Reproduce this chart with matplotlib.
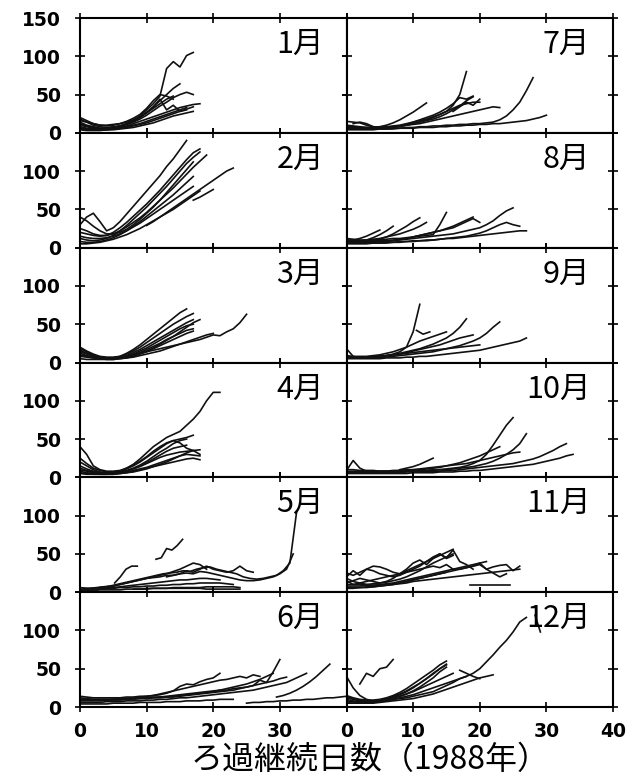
import numpy as np
import matplotlib.pyplot as plt

months = ['1月', '2月', '3月', '4月', '5月', '6月',
          '7月', '8月', '9月', '10月', '11月', '12月']

# each run: (start day, day step, pressure readings)
jan = [
    (0, 1, [14, 10, 8, 6, 6, 7, 9, 12, 16, 22, 30, 38, 48, 84, 93, 86, 101, 105]),
    (0, 1, [10, 8, 6, 5, 5, 6, 8, 11, 15, 20, 27, 34, 42, 50, 58, 64]),
    (0, 1, [18, 14, 10, 8, 7, 8, 9, 11, 14, 18, 23, 29, 35, 40, 46, 50, 53, 50]),
    (0, 1, [8, 6, 5, 4, 5, 6, 7, 9, 12, 15, 18, 21, 24, 27, 30, 33, 35, 37, 38]),
    (0, 1, [6, 5, 4, 4, 4, 5, 6, 8, 10, 12, 15, 18, 21, 24, 27, 30, 33]),
    (0, 1, [12, 9, 7, 6, 6, 7, 9, 12, 16, 20, 26, 34, 44, 30, 36, 28, 30]),
    (0, 1, [5, 4, 4, 4, 4, 5, 6, 7, 9, 11, 13, 16, 19, 22, 25, 28, 31, 34]),
    (0, 1, [4, 3, 3, 3, 4, 4, 5, 6, 7, 9, 11, 13, 16, 19, 22, 24, 26, 28]),
    (0, 1, [20, 16, 12, 10, 9, 10, 12, 15, 19, 24, 32, 42, 50, 48, 44]),
    (0, 1, [16, 14, 12, 10, 10, 11, 12, 14, 17, 21, 26, 32, 38, 44, 48]),
]
feb = [
    (0, 1, [30, 40, 45, 34, 22, 26, 34, 44, 54, 64, 74, 84, 94, 106, 116, 128, 140]),
    (0, 1, [20, 18, 16, 15, 16, 20, 26, 33, 41, 49, 57, 66, 75, 85, 95, 105, 115, 124, 129]),
    (0, 1, [12, 10, 9, 10, 12, 16, 22, 29, 37, 45, 53, 62, 71, 80, 90, 100, 110, 118, 125]),
    (0, 1, [25, 22, 18, 16, 16, 18, 22, 27, 33, 39, 46, 54, 62, 70, 78, 87, 96, 105, 113, 121]),
    (0, 1, [8, 7, 7, 8, 10, 13, 17, 22, 28, 34, 41, 48, 55, 62, 69, 77, 85, 93]),
    (0, 1, [15, 13, 12, 12, 13, 15, 18, 22, 27, 32, 38, 44, 50, 56, 62, 68, 74, 80]),
    (10, 1, [29, 34, 40, 46, 52, 58, 64, 70, 76, 82, 88, 94, 100, 104]),
    (17, 1, [62, 66, 71, 76]),
    (0, 1, [40, 35, 28, 22, 18, 18, 20, 24, 30, 37, 45, 53, 62, 72, 82, 92, 102, 112]),
    (0, 1, [5, 5, 6, 7, 9, 11, 14, 17, 21, 25, 30, 35, 40, 45, 50, 56, 62, 68, 74]),
]
mar = [
    (0, 1, [18, 14, 10, 7, 6, 6, 8, 12, 17, 23, 30, 37, 44, 51, 58, 65, 70]),
    (0, 1, [20, 15, 11, 8, 7, 7, 8, 11, 15, 20, 26, 32, 38, 44, 50, 55, 60, 64]),
    (0, 1, [15, 12, 9, 7, 6, 6, 7, 9, 13, 17, 22, 27, 32, 37, 42, 47, 52, 56]),
    (0, 1, [12, 9, 7, 6, 5, 5, 6, 8, 11, 15, 19, 24, 29, 34, 39, 44, 48, 50]),
    (0, 1, [10, 8, 6, 5, 5, 5, 6, 8, 10, 13, 17, 21, 25, 30, 34, 38, 42, 44]),
    (0, 1, [8, 7, 6, 5, 4, 4, 5, 6, 8, 11, 14, 18, 22, 26, 30, 34, 38, 41]),
    (0, 1, [16, 12, 9, 7, 6, 6, 7, 8, 10, 12, 14, 16, 18, 20, 22, 24, 26, 28, 30, 33,
            36, 35, 40, 44, 52, 63]),
    (0, 1, [5, 4, 4, 4, 4, 4, 5, 6, 7, 9, 11, 13, 15, 18, 21, 24, 27, 30, 33, 36, 38]),
    (0, 1, [14, 11, 8, 6, 5, 5, 6, 7, 9, 12, 15, 19, 24, 29, 34, 40, 46, 52, 56]),
]
apr = [
    (0, 1, [10, 8, 6, 5, 5, 6, 8, 12, 17, 24, 32, 40, 46, 52, 56, 60, 68, 76, 86, 100,
            111, 111]),
    (0, 1, [40, 30, 15, 10, 8, 8, 9, 12, 16, 21, 27, 34, 40, 45, 48, 50, 52, 55]),
    (0, 1, [25, 18, 12, 9, 7, 7, 8, 11, 15, 20, 26, 32, 38, 44, 48, 45, 38, 35, 30]),
    (0, 1, [12, 9, 7, 6, 5, 5, 6, 8, 11, 14, 18, 22, 26, 29, 31, 33, 34, 35]),
    (0, 1, [8, 6, 5, 4, 4, 4, 5, 6, 8, 10, 12, 14, 16, 18, 20, 22, 24, 25, 23]),
    (0, 1, [15, 11, 8, 6, 5, 5, 6, 8, 11, 15, 19, 24, 29, 34, 38, 40, 42]),
    (0, 1, [5, 4, 4, 4, 4, 4, 5, 6, 7, 9, 11, 14, 17, 20, 24, 28, 32, 35, 36]),
    (0, 1, [20, 15, 10, 7, 6, 6, 7, 9, 12, 16, 21, 27, 33, 38, 44, 48, 50]),
    (0, 1, [6, 5, 4, 4, 4, 5, 6, 7, 9, 11, 13, 16, 19, 22, 25, 28, 30, 29, 28]),
]
may = [
    (0.5, 1, [5, 5, 6, 7, 8, 10, 12, 14, 16, 18, 20, 22, 24, 25, 26, 28, 27, 30, 32, 33,
              30, 28, 26, 24, 20, 18, 17, 18, 20, 22, 28, 38, 104]),
    (0, 1, [4, 4, 5, 6, 7, 8, 10, 12, 14, 16, 18, 19, 20, 22, 22, 24, 25, 24, 27, 26,
            24, 22, 20, 18, 16, 15, 15, 16, 18, 20, 24, 30, 50]),
    (11.4, 0.8, [43, 45, 57, 55, 61, 69]),
    (5.2, 0.85, [12, 20, 30, 34, 34]),
    (3, 1, [6, 7, 8, 10, 12, 14, 16, 18, 20, 22, 24, 27, 30, 34, 38, 36, 30]),
    (0, 1, [3, 3, 4, 4, 5, 5, 6, 6, 7, 7, 8, 8, 9, 9, 10, 10, 11, 11, 12, 12, 12, 12, 11, 10]),
    (0, 1, [2, 2, 2, 3, 3, 3, 3, 4, 4, 4, 5, 5, 5, 5, 6, 6, 6, 6, 6, 7, 7, 7, 7, 7, 6]),
    (0, 1, [6, 5, 5, 5, 6, 6, 7, 8, 9, 10, 11, 12, 13, 14, 15, 16, 16, 17, 18, 18, 17, 16]),
    (8, 1, [4, 4, 4, 5, 5, 5, 5, 5, 5, 5, 5, 4, 4, 4, 4, 4, 4]),
    (13, 1, [20, 22, 24, 28, 26, 30, 34, 30, 28, 26, 28, 34, 28, 26]),
]
jun = [
    (0, 1, [14, 13, 12, 12, 12, 12, 12, 13, 13, 14, 14, 15, 16, 18, 21, 27, 30, 29, 33, 36,
            38, 44]),
    (0, 1, [10, 10, 10, 10, 10, 10, 11, 11, 12, 12, 12, 13, 13, 14, 15, 16, 17, 18, 19, 20,
            21, 22, 22, 24, 25, 26, 28, 35, 32, 46, 62]),
    (0, 1, [8, 8, 8, 8, 9, 9, 9, 10, 10, 11, 11, 12, 12, 13, 13, 14, 15, 16, 17, 18,
            19, 20, 21, 22, 24, 26, 28, 30, 32, 34, 37, 39]),
    (0, 1, [6, 6, 6, 6, 7, 7, 7, 8, 8, 8, 9, 9, 10, 10, 11, 12, 12, 13, 14, 15,
            16, 17, 18, 19, 20, 21, 22, 24, 26, 28, 30, 32, 36, 40, 44]),
    (29.5, 1, [13, 15, 18, 22, 27, 33, 40, 48, 56]),
    (25, 1, [5, 6, 6, 7, 7, 8, 8, 9, 9, 10, 10, 11, 12, 12, 13, 14]),
    (0, 1, [4, 4, 4, 4, 4, 5, 5, 5, 5, 6, 6, 6, 6, 7, 7, 7, 8, 8, 8, 9, 9, 10, 10, 10]),
    (0, 1, [12, 11, 10, 10, 10, 10, 11, 11, 12, 13, 14, 15, 17, 19, 21, 23, 25, 27, 29, 31,
            33, 35, 36, 38, 40, 38, 42, 40]),
    (0, 1, [9, 9, 9, 9, 9, 10, 10, 10, 11, 11, 12, 12, 13, 13, 14, 15, 16, 17, 18, 19,
            20, 22, 24, 26, 28, 30, 33, 36, 40, 44]),
]
jul = [
    (1, 1, [12, 14, 12, 8, 6, 6, 7, 8, 10, 12, 14, 17, 20, 24, 28, 36, 50, 80]),
    (0, 1, [15, 14, 13, 10, 8, 7, 7, 8, 9, 11, 14, 17, 20, 23, 27, 32, 38, 46, 44, 48]),
    (0, 1, [8, 8, 7, 7, 7, 8, 10, 13, 17, 22, 27, 33, 39]),
    (0, 1, [6, 6, 5, 5, 5, 5, 5, 6, 6, 7, 7, 8, 8, 9, 9, 10, 10, 11, 11, 12,
            12, 13, 14, 17, 22, 30, 40, 55, 72]),
    (0, 1, [4, 4, 4, 4, 4, 5, 5, 5, 6, 6, 6, 7, 7, 7, 8, 8, 9, 9, 10, 10,
            11, 11, 12, 12, 13, 14, 15, 16, 18, 20, 23]),
    (0, 1, [10, 9, 8, 7, 7, 7, 8, 9, 10, 12, 14, 16, 18, 21, 24, 28, 32, 36, 38, 40, 40]),
    (0, 1, [5, 5, 5, 5, 6, 6, 7, 8, 9, 10, 11, 12, 14, 16, 18, 20, 22, 24, 26, 28,
            30, 32, 34, 33]),
    (0, 1, [7, 7, 6, 6, 6, 7, 7, 8, 9, 10, 12, 14, 16, 18, 21, 25, 30, 35, 42, 47]),
    (16, 1, [28, 34, 40, 36, 44]),
]
aug = [
    (0, 1, [8, 8, 7, 7, 7, 8, 8, 9, 10, 11, 12, 13, 14, 15, 16, 17, 18, 20, 22, 24,
            26, 30, 35, 42, 48, 52]),
    (0, 1, [6, 6, 6, 6, 6, 6, 7, 7, 8, 8, 9, 9, 10, 10, 11, 12, 12, 13, 14, 15,
            16, 17, 18, 19, 20, 21, 22, 22]),
    (0, 1, [10, 9, 9, 9, 10, 10, 11, 12, 12, 13, 14, 15, 16, 17, 30, 46]),
    (0, 1, [9, 8, 8, 8, 8, 9, 9, 10, 11, 12, 14, 16, 18, 20, 22, 25, 28, 32, 36, 40]),
    (0, 1, [12, 11, 10, 10, 11, 12, 14, 16, 18, 21, 24, 28, 33]),
    (0, 1, [7, 7, 7, 8, 9, 11, 14, 18, 23, 28, 34, 39]),
    (0, 1, [8, 8, 9, 10, 13, 17, 22, 28]),
    (0, 1, [10, 10, 12, 15, 19, 23]),
    (10, 1, [14, 16, 18, 20, 22, 24, 26, 30, 34, 38, 33]),
    (0, 1, [5, 5, 5, 5, 6, 6, 6, 7, 7, 8, 8, 9, 9, 10, 11, 12, 13, 14, 15, 17,
            19, 22, 26, 30, 33, 30, 28]),
]
sep = [
    (0, 1, [18, 8, 6, 6, 7, 8, 9, 11, 14, 20, 40, 76]),
    (0, 1, [8, 7, 6, 6, 7, 8, 9, 10, 12, 14, 16, 18, 21, 24, 28, 32, 38, 46, 57]),
    (0, 1, [6, 6, 6, 6, 6, 7, 7, 8, 9, 10, 11, 12, 13, 14, 16, 18, 20, 22, 25, 28,
            32, 38, 46, 53]),
    (0, 1, [5, 5, 5, 5, 5, 5, 6, 6, 6, 7, 7, 8, 8, 9, 10, 11, 12, 13, 14, 15,
            16, 18, 20, 22, 24, 26, 28, 32]),
    (0, 1, [7, 7, 7, 7, 8, 8, 9, 10, 11, 12, 13, 14, 15, 16, 17, 18, 19, 20, 21, 22, 23]),
    (0, 1, [9, 8, 8, 8, 9, 10, 12, 14, 17, 20, 24, 28, 31, 34, 37, 40]),
    (0, 1, [6, 6, 6, 7, 7, 8, 9, 10, 11, 13, 15, 17, 19, 21, 23, 26, 29, 32, 34, 36]),
    (10.5, 1, [42, 37, 40]),
]
oct_ = [
    (0, 1, [10, 10, 9, 9, 9, 8, 8, 8, 8, 8, 9, 9, 9, 10, 10, 11, 12, 13, 15, 18,
            22, 30, 42, 55, 68, 78]),
    (0, 1, [8, 8, 8, 7, 7, 7, 7, 7, 8, 8, 8, 8, 9, 9, 10, 10, 11, 12, 13, 14,
            16, 18, 21, 25, 30, 36, 44, 57]),
    (0, 1, [6, 6, 6, 6, 6, 6, 6, 6, 6, 7, 7, 7, 8, 8, 8, 9, 9, 10, 11, 12,
            13, 14, 15, 16, 17, 18, 20, 22, 24, 27, 31, 35, 40, 44]),
    (0, 1, [5, 5, 5, 5, 5, 5, 5, 5, 5, 5, 6, 6, 6, 6, 7, 7, 7, 8, 8, 9,
            9, 10, 11, 12, 13, 14, 15, 16, 17, 19, 21, 23, 25, 28, 30]),
    (0, 1, [9, 22, 12, 8, 8, 8, 8, 9, 9, 10, 10, 11, 12, 13, 14, 15, 16, 17, 18, 20,
            22, 24, 26, 28, 30, 32, 33]),
    (0, 1, [7, 7, 7, 7, 7, 8, 8, 8, 9, 9, 10, 10, 11, 12, 13, 15, 17, 19, 22, 25,
            28, 32, 36, 40]),
    (8, 1, [10, 12, 14, 17, 21, 25]),
]
nov = [
    (0, 1, [20, 28, 22, 30, 34, 33, 30, 26, 24, 28, 32, 36, 40, 44, 48, 52, 56]),
    (0, 1, [12, 15, 18, 16, 14, 12, 14, 18, 24, 30, 38, 42, 36, 44, 50, 45, 55, 40, 36, 30]),
    (0, 1, [15, 10, 12, 14, 16, 18, 20, 22, 24, 26, 28, 30, 32, 34, 32, 36, 30, 30, 32, 34,
            38, 30, 33, 35, 36, 28, 34]),
    (0, 1, [8, 8, 8, 9, 9, 10, 11, 12, 14, 16, 18, 20, 22, 24, 26, 28, 30, 32, 34, 36, 38, 40]),
    (0, 1, [6, 6, 6, 7, 7, 8, 9, 10, 11, 12, 14, 15, 16, 17, 18, 19, 20, 21, 22, 23,
            24, 25, 26, 27, 28, 29, 30]),
    (0, 1, [10, 10, 10, 10, 11, 12, 13, 15, 17, 20, 24, 28, 33, 38, 42, 46, 50]),
    (0, 1, [5, 5, 6, 6, 7, 8, 9, 10, 12, 14, 16, 18, 20, 22, 24, 26, 28, 30, 32, 34,
            36, 30, 25, 20, 24]),
    (18.5, 1, [10, 10, 10, 10, 10, 10, 10]),
    (0, 1, [18, 14, 12, 10, 9, 9, 10, 11, 12, 14, 16, 18, 20, 22, 24, 26]),
    (0, 1, [25, 22, 26, 30, 28, 24, 22, 20, 22, 26, 30, 34, 40, 46, 50, 44, 48]),
]
dec = [
    (0, 1, [40, 25, 15, 10, 8, 8, 9, 10, 11, 12, 14, 16, 18, 20, 24, 28, 32, 37, 40, 44,
            50, 59, 68, 78, 87, 98, 111, 117]),
    (28.3, 0.8, [120, 98]),
    (2, 1, [30, 44, 40, 50, 52, 62]),
    (17, 1, [48, 44, 40, 37]),
    (0, 1, [15, 12, 10, 9, 9, 10, 12, 15, 19, 24, 30, 36, 42, 48, 55, 60]),
    (0, 1, [10, 8, 7, 7, 8, 9, 11, 13, 16, 20, 25, 31, 37, 44, 50, 55]),
    (0, 1, [8, 7, 6, 6, 7, 8, 10, 12, 14, 17, 20, 24, 28, 32, 36, 40, 44]),
    (0, 1, [12, 10, 8, 8, 8, 9, 11, 14, 17, 21, 26, 31, 37, 43, 50, 56]),
    (0, 1, [6, 5, 5, 5, 6, 7, 8, 10, 12, 14, 16, 19, 22, 25, 28, 31, 34, 37, 40]),
    (0, 1, [14, 11, 9, 8, 8, 9, 10, 12, 14, 17, 21, 26, 32, 38, 46, 52]),
    (0, 1, [5, 5, 5, 5, 5, 6, 7, 8, 9, 10, 11, 13, 15, 17, 20, 23, 26, 29, 32, 35,
            38, 40, 42]),
]
runs = [jan, feb, mar, apr, may, jun, jul, aug, sep, oct_, nov, dec]

plt.rcParams['font.family'] = ['Noto Sans CJK JP', 'DejaVu Sans']

fig, axes = plt.subplots(6, 2, figsize=(6.35, 7.79), dpi=100)
fig.subplots_adjust(left=80/635, right=613/635, top=1-18/779, bottom=1-707/779,
                    hspace=0, wspace=0)

for i, (name, lines) in enumerate(zip(months, runs)):
    row, col = i % 6, i // 6
    ax = axes[row, col]
    for x0, dx, ys in lines:
        xs = x0 + dx * np.arange(len(ys))
        ax.plot(xs, ys, color='#111111', lw=1.2)
    ax.text(0.915, 0.77, name, transform=ax.transAxes, ha='right', va='center',
            fontsize=22)
    ax.set_xlim(0, 40)
    ax.set_ylim(0, 150)
    ax.set_xticks([0, 10, 20, 30, 40])
    ax.set_yticks([0, 50, 100, 150])
    ax.tick_params(direction='inout', length=7, width=1.2, top=True, right=True,
                   labelsize=13.5, labelfontfamily='DejaVu Sans')
    ax.tick_params(axis='x', pad=7)
    ax.tick_params(axis='y', pad=10)
    for s in ax.spines.values():
        s.set_linewidth(1.5)
    if col == 0:
        ax.set_yticklabels(['0', '50', '100', '150' if row == 0 else ''])
    else:
        ax.set_yticklabels([])
    if row == 5:
        if col == 0:
            ax.set_xticklabels(['0', '10', '20', '30', ''])
        else:
            ax.set_xticklabels(['0', '10', '20', '30', '40'])
    else:
        ax.set_xticklabels([])
    for lab in ax.get_xticklabels() + ax.get_yticklabels():
        lab.set_fontweight('bold')

fig.text(0.583, 0.024, 'ろ過継続日数（1988年）', ha='center', va='center', fontsize=23)

fig.savefig('out.png', dpi=100)
